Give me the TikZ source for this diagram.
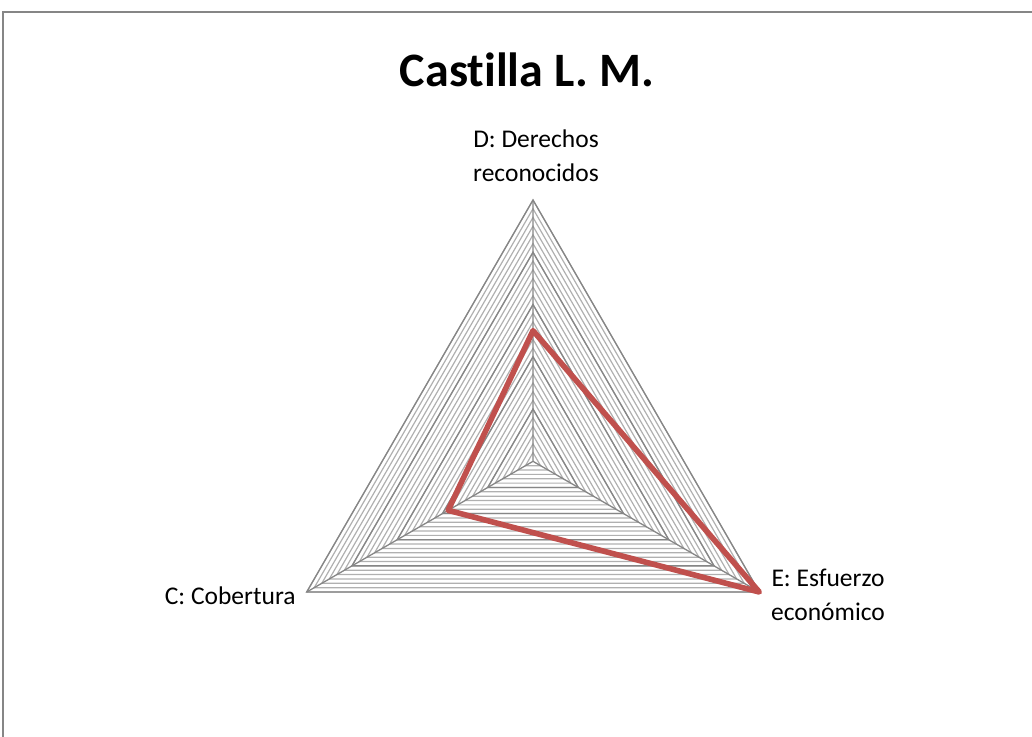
\documentclass[tikz,border=0pt]{standalone}
\usepackage{fontspec}
\setmainfont{Carlito}[Ligatures=NoCommon]
\usepackage{tikz}
\usetikzlibrary{calc}

\definecolor{gridmajor}{HTML}{868686}
\definecolor{gridminor}{HTML}{B0B0B0}
\definecolor{serie}{HTML}{C0504D}

\begin{document}
\begin{tikzpicture}[x=0.5pt,y=-0.5pt,
    major/.style={draw=gridmajor,line width=0.65pt},
    minor/.style={draw=gridminor,line width=0.6pt},
    eje/.style={font=\fontsize{12.75}{17}\selectfont,inner sep=0pt,align=center}]
    \useasboundingbox (0,0) rectangle (1032,736);
    \draw[gridmajor,line width=0.8pt] (3,760) -- (3,12) -- (1060,12);

    \node[font=\fontsize{24}{28}\selectfont\bfseries,inner sep=0pt] (titulo) at (527,70) {Castilla L. M.};

    \coordinate (o) at (533,461.3);
    \coordinate (d) at (533,200);
    \coordinate (c) at (306.7,592);
    \coordinate (e) at (759.3,592);

    % rejilla
    \foreach \k in {1,...,30}
        \draw[minor] ($(o)!\k/30!(d)$) -- ($(o)!\k/30!(e)$) -- ($(o)!\k/30!(c)$) -- cycle;
    \foreach \k in {6,12,...,30}
        \draw[major] ($(o)!\k/30!(d)$) -- ($(o)!\k/30!(e)$) -- ($(o)!\k/30!(c)$) -- cycle;
    \draw[major] (o) -- (d) (o) -- (c) (o) -- (e);

    % serie
    \coordinate (sd) at ($(o)!0.5!(d)$);
    \coordinate (sc) at ($(o)!0.375!(c)$);
    \coordinate (se) at (e);
    \draw[serie,line width=2.8pt,line join=round] (sd) -- (sc) -- (se) -- cycle;

    \node[eje,anchor=base] (ld) at (536,181) {D: Derechos\\reconocidos};
    \node[eje,anchor=base east] (lc) at (296,604) {C: Cobertura};
    \node[eje,anchor=base] (le) at (828,620) {E: Esfuerzo\\económico};
\end{tikzpicture}
\end{document}
